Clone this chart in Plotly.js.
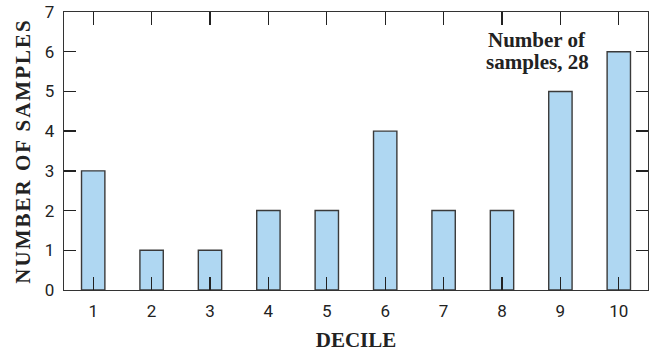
<!DOCTYPE html>
<html>
<head>
<meta charset="utf-8">
<script src="https://cdn.plot.ly/plotly-3.0.1.min.js"></script>
<style>
html,body{margin:0;padding:0;background:#fff;}
#chart{width:650px;height:353px;}
.ytitle{letter-spacing:2px;}
</style>
</head>
<body>
<div id="chart"></div>
<script>
const deciles = [1, 2, 3, 4, 5, 6, 7, 8, 9, 10];
const sampleCounts = [3, 1, 1, 2, 2, 4, 2, 2, 5, 6];
const yTicks = [0, 1, 2, 3, 4, 5, 6, 7];
const totalSamples = 28;

const tickFont = {family: 'Liberation Sans Narrow, Arial Narrow, Roboto, sans-serif', size: 17, color: '#222'};
const serif = 'Liberation Serif, Times New Roman, serif';

const data = [{
  type: 'bar',
  x: deciles,
  y: sampleCounts,
  width: 0.4,
  marker: {color: '#afd7f2', line: {color: '#3a3a3a', width: 1.4}},
  hoverinfo: 'x+y'
}];

const layout = {
  width: 650, height: 353,
  margin: {l: 64, r: 2, t: 12, b: 63},
  paper_bgcolor: '#fff', plot_bgcolor: '#fff',
  showlegend: false,
  font: {family: serif},
  xaxis: {
    range: [0.5, 10.5],
    tickvals: deciles,
    ticktext: deciles.map(String),
    ticks: 'inside', ticklen: 13, tickwidth: 1.3, tickcolor: '#222',
    showline: true, linecolor: '#333', linewidth: 1.3, mirror: 'ticks',
    showgrid: false, zeroline: false,
    tickfont: tickFont,
    ticklabelstandoff: 5,
    title: {text: '<b>DECILE</b>', font: {family: serif, size: 21, color: '#222'}, standoff: 12}
  },
  yaxis: {
    range: [0, 7],
    tickvals: yTicks,
    ticks: 'inside', ticklen: 12, tickwidth: 1.3, tickcolor: '#222',
    showline: true, linecolor: '#333', linewidth: 1.3, mirror: 'ticks',
    showgrid: false, zeroline: false,
    tickfont: tickFont,
    ticklabelstandoff: 5,
    title: {text: '<b>NUMBER OF SAMPLES</b>', font: {family: serif, size: 21, color: '#222'}, standoff: 8}
  },
  annotations: [
    {xref: 'x', yref: 'y', x: 8.6, y: 6.3, text: '<b>Number of</b>', showarrow: false,
     font: {family: serif, size: 21, color: '#222'}},
    {xref: 'x', yref: 'y', x: 8.6, y: 5.74, text: '<b>samples, ' + totalSamples + '</b>', showarrow: false,
     font: {family: serif, size: 21, color: '#222'}}
  ]
};

Plotly.newPlot('chart', data, layout, {displayModeBar: false, staticPlot: true});
</script>
</body>
</html>
